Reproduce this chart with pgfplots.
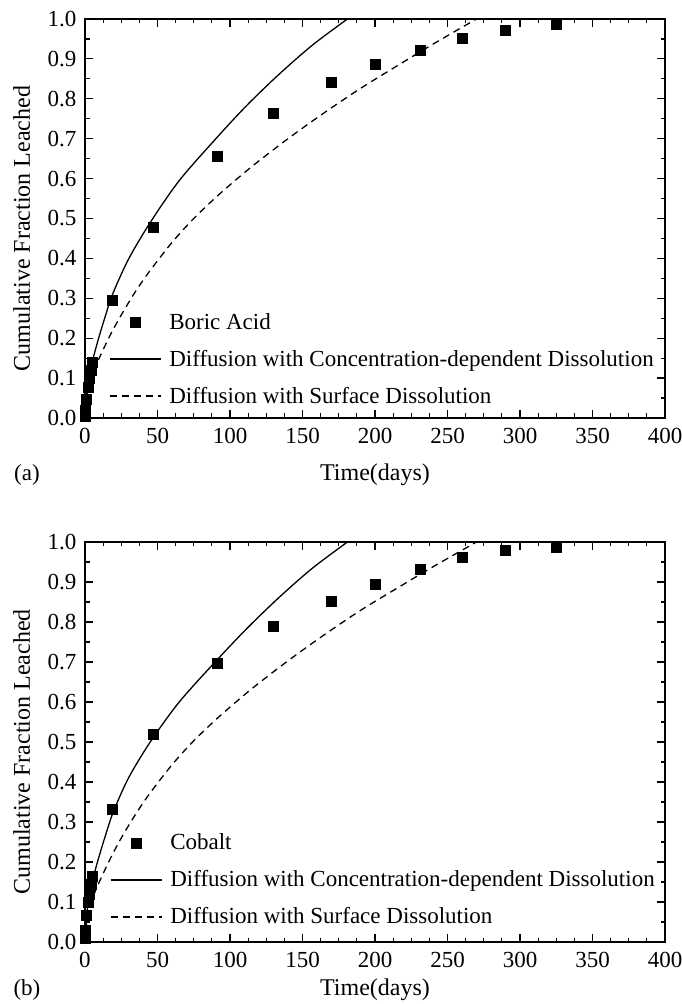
\documentclass[border=0pt]{standalone}
\usepackage{pgfplots}
\pgfplotsset{compat=1.18}
\usepackage{fontspec}
\setmainfont{Liberation Serif}

\pgfplotsset{
  leachaxis/.style={
    scale only axis,
    width=580pt,
    xmin=0, xmax=400, ymin=0, ymax=1,
    xtick={0,50,...,400},
    ytick={0,0.1,...,1.0},
    minor x tick num=3,
    minor y tick num=1,
    tick align=inside,
    major tick length=8pt,
    minor tick length=4.5pt,
    every tick/.style={black, line width=1.2pt},
    axis line style={line width=1.6pt},
    /pgf/number format/assume math mode=true,
    yticklabel style={xshift=-5pt, /pgf/number format/.cd, fixed, fixed zerofill, precision=1},
    xticklabel style={yshift=-7pt},
    ticklabel style={font=\fontsize{23}{27}\selectfont},
    ylabel={Cumulative Fraction Leached},
    xlabel={Time(days)},
    every axis y label/.style={at={(axis description cs:-0.109,0.475)}, rotate=90, anchor=center, font=\fontsize{24}{28}\selectfont},
    clip=false,
    legend cell align=left,
    legend style={draw=none, fill=none, inner sep=0pt, outer sep=0pt, anchor=north west,
      row sep=0pt,
      font=\fontsize{23}{27}\selectfont,
      nodes={inner sep=0pt, text height=22pt, text depth=15pt, anchor=base west},
      /tikz/every odd column/.append style={column sep=8pt}},
  },
  datamarks/.style={only marks, mark=square*, mark size=5pt, black,
    legend image code/.code={\draw[mark repeat=2, mark phase=2, ##1] plot coordinates {(0pt,7pt) (25.5pt,7pt) (51pt,7pt)};}},
  solidcurve/.style={black, line width=1.3pt, no marks, smooth, tension=0.5,
    legend image code/.code={\draw[##1] (0pt,7pt) -- (51pt,7pt);}},
  dashcurve/.style={black, line width=1.3pt, no marks, smooth, tension=0.5, dash pattern=on 7pt off 5pt,
    legend image code/.code={\draw[##1] (0pt,7pt) -- (51pt,7pt);}},
}

\begin{document}
\begin{tikzpicture}
\useasboundingbox (0pt,0pt) rectangle (682pt,1004pt);

% ---------------- (a) ----------------
\begin{axis}[leachaxis,
  at={(85pt,586pt)}, anchor=south west, height=399pt,
  every axis x label/.style={at={(axis description cs:0.5,-0.143)}, anchor=center, font=\fontsize{24}{28}\selectfont},
  legend style={at={(0.0414,0.278)}}]
\addplot[datamarks] coordinates {
 (0.1,0.005) (0.3,0.02) (1,0.047) (2,0.078) (3,0.10) (4,0.12) (5,0.14)
 (19,0.295) (47,0.478) (91,0.655) (130,0.765) (170,0.842) (200,0.887)
 (231,0.922) (260,0.952) (290,0.972) (325,0.987)};
\addlegendentry{Boric Acid}
\addplot[solidcurve] coordinates {
 (0,0) (1,0.055) (2,0.085) (5,0.14) (9,0.195) (14,0.255) (19,0.31)
 (30,0.398) (45,0.49) (65,0.595) (91,0.703) (112,0.785) (134,0.862)
 (157,0.935) (181,1.0)};
\addlegendentry{Diffusion with Concentration-dependent Dissolution}
\addplot[dashcurve] coordinates {
 (0,0) (1,0.045) (3,0.085) (8,0.135) (17,0.205) (25,0.258) (35,0.318)
 (45,0.37) (60,0.44) (75,0.5) (93,0.562) (115,0.63) (140,0.7) (165,0.765)
 (190,0.826) (215,0.882) (240,0.937) (270,1.0)};
\addlegendentry{Diffusion with Surface Dissolution}
\end{axis}

% ---------------- (b) ----------------
\begin{axis}[leachaxis,
  at={(85pt,62pt)}, anchor=south west, height=400pt,
  every axis x label/.style={at={(axis description cs:0.5,-0.12)}, anchor=center, font=\fontsize{24}{28}\selectfont},
  legend style={at={(0.0431,0.285)}}]
\addplot[datamarks] coordinates {
 (0.1,0.01) (0.3,0.03) (1,0.068) (2,0.10) (3,0.12) (4,0.145) (5,0.165)
 (19,0.333) (47,0.52) (91,0.697) (130,0.79) (170,0.853) (200,0.895)
 (231,0.932) (260,0.963) (290,0.98) (325,0.987)};
\addlegendentry{Cobalt}
\addplot[solidcurve] coordinates {
 (0,0) (1,0.06) (2,0.09) (5,0.15) (9,0.205) (14,0.265) (19.5,0.325)
 (30,0.41) (45,0.5) (65,0.6) (91,0.705) (112,0.785) (134,0.862)
 (157,0.935) (181,1.0)};
\addlegendentry{Diffusion with Concentration-dependent Dissolution}
\addplot[dashcurve] coordinates {
 (0,0) (1,0.045) (3,0.085) (8,0.135) (17,0.205) (25,0.26) (35,0.32)
 (45,0.373) (60,0.443) (75,0.503) (93,0.565) (115,0.633) (140,0.703) (165,0.768)
 (190,0.829) (215,0.884) (240,0.938) (270,1.0)};
\addlegendentry{Diffusion with Surface Dissolution}
\end{axis}

\node[font=\fontsize{23}{27}\selectfont] at (27pt,529pt) {(a)};
\node[font=\fontsize{23}{27}\selectfont] at (27pt,14pt) {(b)};
\end{tikzpicture}
\end{document}
